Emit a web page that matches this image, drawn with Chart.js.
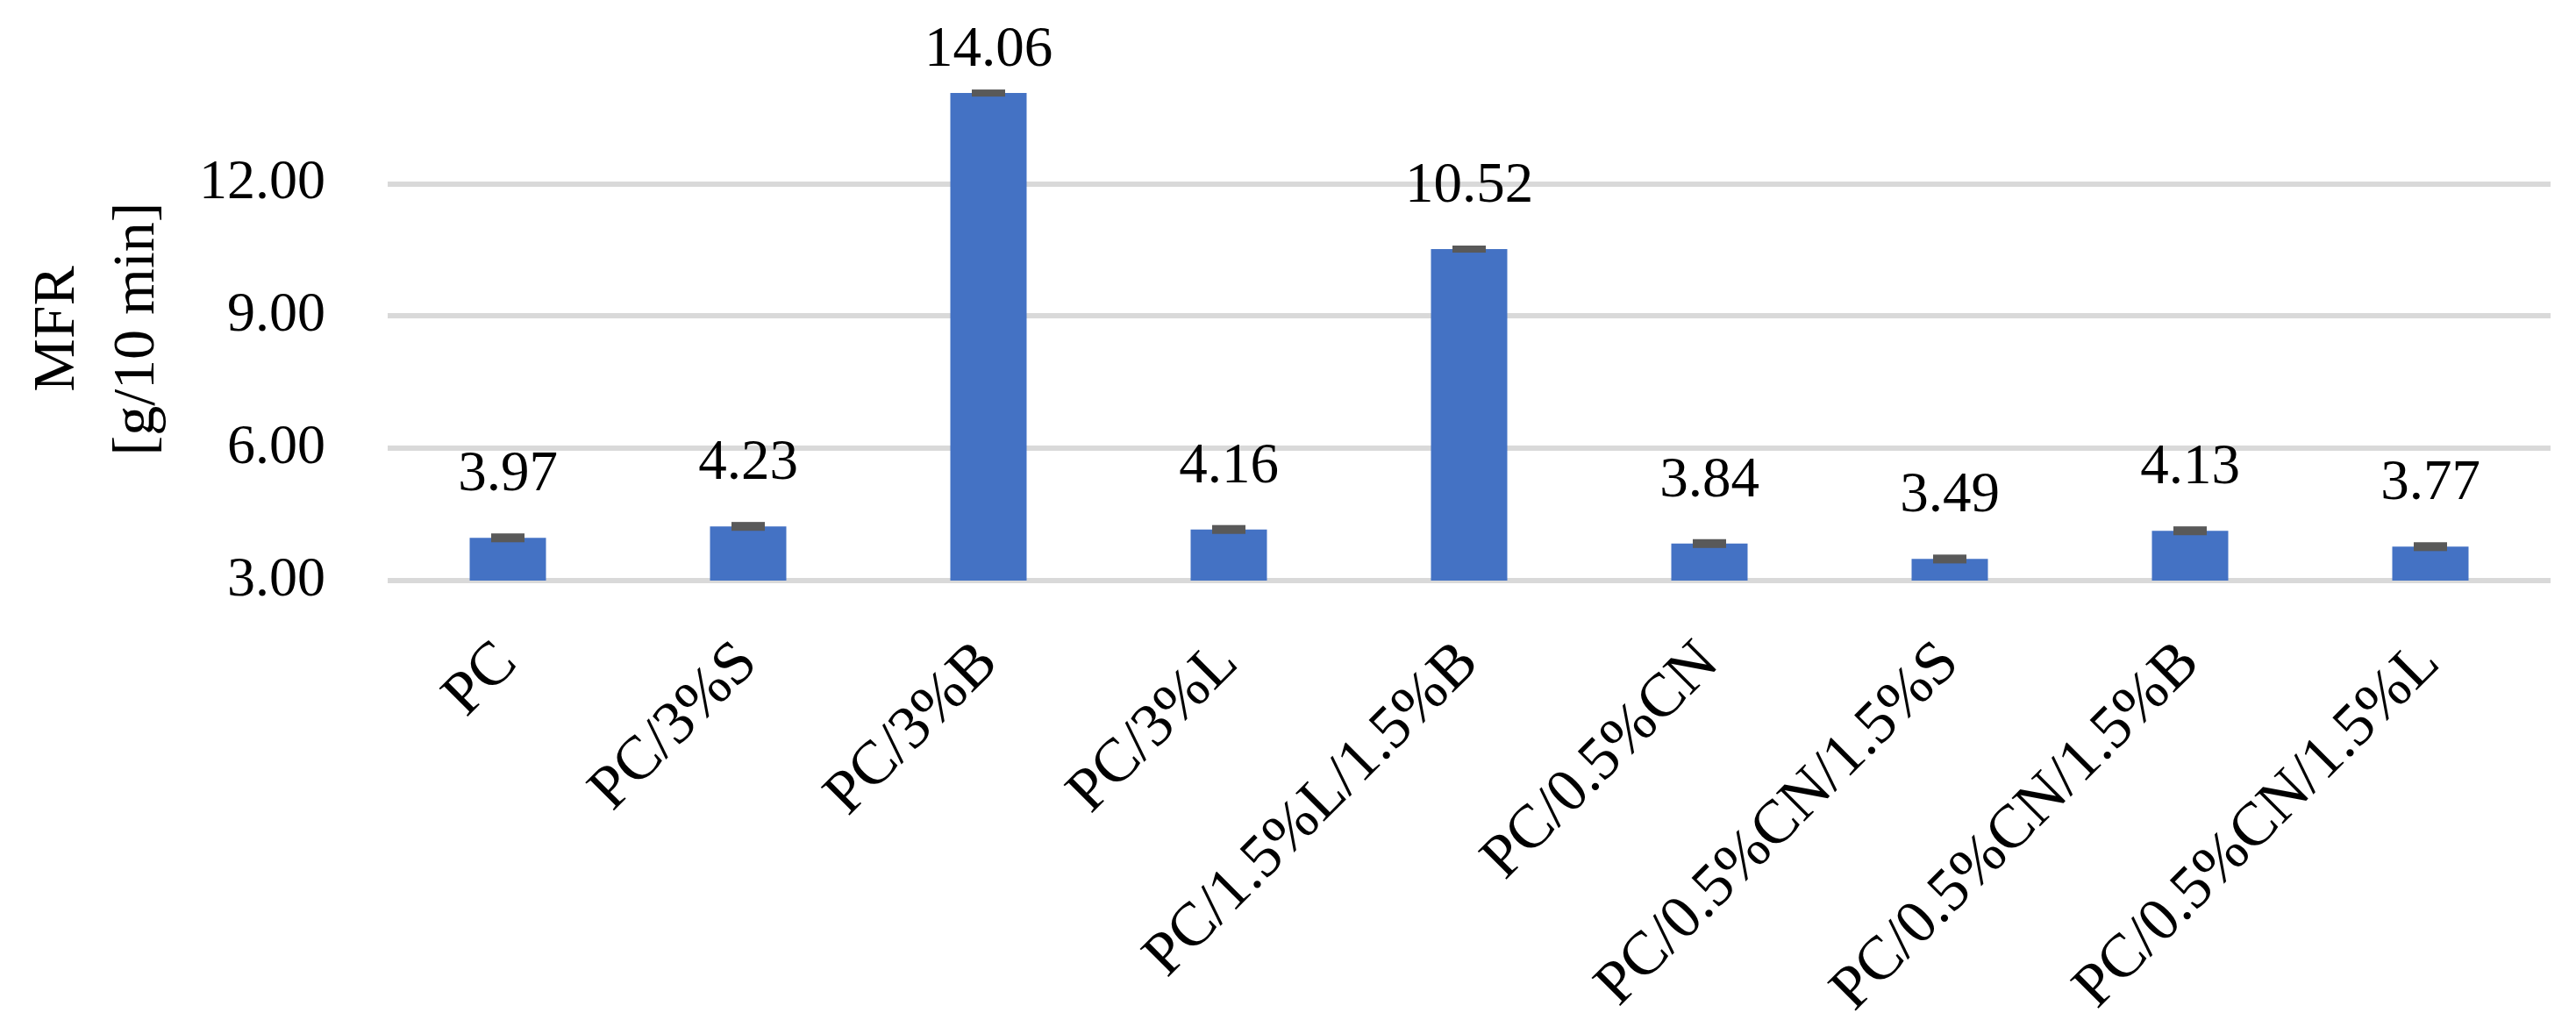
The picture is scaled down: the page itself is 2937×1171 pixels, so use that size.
<!DOCTYPE html>
<html><head><meta charset="utf-8">
<script src="https://cdn.jsdelivr.net/npm/chart.js@4.4.0/dist/chart.umd.min.js"></script>
<style>html,body{margin:0;padding:0;background:#fff;} #wrap{width:2937px;height:1171px;position:relative;}</style>
</head><body><div id="wrap"><canvas id="c"></canvas></div>
<script>
const categories = ['PC','PC/3%S','PC/3%B','PC/3%L','PC/1.5%L/1.5%B','PC/0.5%CN','PC/0.5%CN/1.5%S','PC/0.5%CN/1.5%B','PC/0.5%CN/1.5%L'];
const mfrValues = [3.97, 4.23, 14.06, 4.16, 10.52, 3.84, 3.49, 4.13, 3.77];
const mfrErrors = [0.1, 0.1, 0.08, 0.1, 0.08, 0.1, 0.1, 0.1, 0.1];
const yTickValues = [3, 6, 9, 12];
const yTitleLines = ['MFR', '[g/10 min]'];

const FONT = "'Liberation Serif', 'Times New Roman', serif";

const overlay = {
  id: 'overlay',
  afterDatasetsDraw(chart) {
    const ctx = chart.ctx, y = chart.scales.y, meta = chart.getDatasetMeta(0);
    ctx.save();
    meta.data.forEach((bar, i) => {
      const v = mfrValues[i], e = mfrErrors[i];
      const yt = y.getPixelForValue(v + e), yb = y.getPixelForValue(v - e);
      ctx.fillStyle = '#595959';
      ctx.fillRect(bar.x - 19, yt, 38, yb - yt);
      ctx.fillStyle = '#000';
      ctx.font = '65px ' + FONT;
      ctx.textAlign = 'center';
      ctx.textBaseline = 'alphabetic';
      const by = Math.max(y.getPixelForValue(v) - 54, 75);
      ctx.fillText(v.toFixed(2), bar.x, by);
    });
    ctx.restore();
  }
};

new Chart(document.getElementById('c'), {
  type: 'bar',
  data: {
    labels: categories,
    datasets: [{
      data: mfrValues,
      backgroundColor: '#4472C4',
      borderWidth: 0,
      barPercentage: 0.3175,
      categoryPercentage: 1.0
    }]
  },
  options: {
    responsive: true,
    maintainAspectRatio: false,
    devicePixelRatio: 1,
    animation: false,
    layout: { padding: { top: 88, right: 29, bottom: 0, left: 0 } },
    plugins: { legend: { display: false }, tooltip: { enabled: false } },
    scales: {
      x: {
        offset: true,
        grid: { display: false, drawTicks: false },
        border: { display: false },
        ticks: {
          autoSkip: false,
          minRotation: 45,
          maxRotation: 45,
          padding: 82,
          color: '#000',
          font: { family: FONT, size: 70, lineHeight: 0.05 }
        },
        afterFit(scale) {
          scale.height = 509;
          scale.paddingLeft = 0; scale.paddingRight = 0;
          scale.paddingTop = 0; scale.paddingBottom = 0;
        }
      },
      y: {
        min: 3,
        max: 14.42,
        grid: { color: '#D9D9D9', lineWidth: 6, drawTicks: false },
        border: { display: false },
        afterBuildTicks(scale) { scale.ticks = yTickValues.map(v => ({ value: v })); },
        ticks: {
          padding: 71,
          color: '#000',
          font: { family: FONT, size: 64 },
          callback: (v) => Number(v).toFixed(2)
        },
        title: {
          display: true,
          text: yTitleLines,
          color: '#000',
          font: { family: FONT, size: 68, lineHeight: 1.33 },
          padding: { top: 21, bottom: 0 }
        },
        afterFit(scale) {
          scale.width = 442;
          scale.paddingTop = 0; scale.paddingBottom = 0;
          scale.paddingLeft = 0; scale.paddingRight = 0;
        }
      }
    }
  },
  plugins: [overlay]
});
</script>
</body></html>
